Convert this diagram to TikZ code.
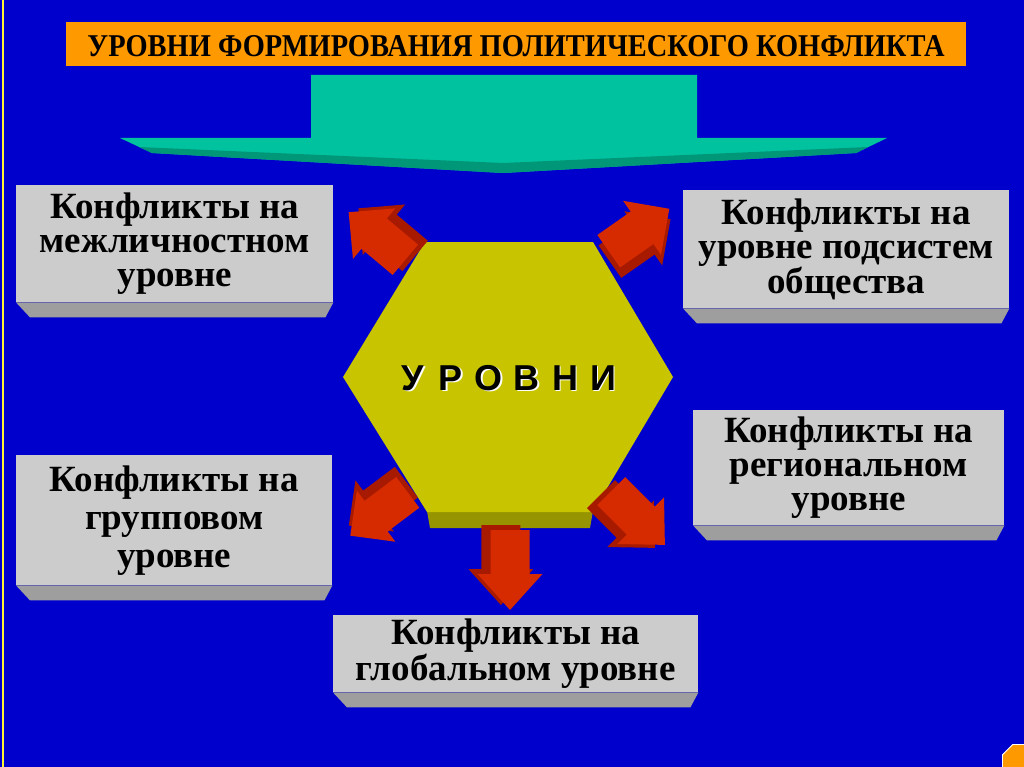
\documentclass[tikz,border=0pt]{standalone}
\usepackage{fontspec}
\setmainfont{Liberation Serif}
\newfontfamily\sansbold[BoldFont={Liberation Sans Bold}]{Liberation Sans}
\usetikzlibrary{calc,shapes.geometric}
\definecolor{bgblue}{RGB}{0,0,204}
\definecolor{titleor}{RGB}{255,153,0}
\definecolor{tealA}{RGB}{0,194,158}
\definecolor{tealB}{RGB}{0,150,120}
\definecolor{hexy}{RGB}{200,196,0}
\definecolor{hexd}{RGB}{150,148,0}
\definecolor{boxg}{RGB}{204,204,204}
\definecolor{bevg}{RGB}{158,158,158}
\definecolor{redf}{RGB}{214,42,0}
\definecolor{redd}{RGB}{168,26,0}
\tikzset{
  lvlbox/.style={rectangle, fill=boxg, text=black, align=center, inner sep=0pt,
    anchor=north west, font=\bfseries\fontsize{37}{34}\selectfont},
  bevel/.style={fill=bevg},
  redface/.style={fill=redf},
  redside/.style={fill=redd}
}
\newcommand{\blockarrow}[5]{%
  \begin{scope}[shift={(#1,#2)}, rotate=#3]
    \fill[redside] ($(-#4/2,-0.3*#5)+(-5,0.14*#5)$) -- ++(0.55*#4,0) -- ++(0,-0.2*#5)
       -- ++(0.45*#4,0.5*#5) -- ++(-0.45*#4,0.5*#5) -- ++(0,-0.2*#5) -- ++(-0.55*#4,0) -- cycle;
    \fill[redface] (-#4/2,-0.3*#5) -- ++(0.55*#4,0) -- ++(0,-0.2*#5)
       -- ++(0.45*#4,0.5*#5) -- ++(-0.45*#4,0.5*#5) -- ++(0,-0.2*#5) -- ++(-0.55*#4,0) -- cycle;
  \end{scope}}
\begin{document}
\begin{tikzpicture}[x=1pt,y=-1pt]
\useasboundingbox (0,0) rectangle (1024,767);
\clip (0,0) rectangle (1024,767);
\fill[bgblue] (0,0) rectangle (1024,767);
\draw[yellow!80!white, line width=2pt] (3,0) -- (3,767);

% title
\node[fill=titleor, minimum width=900pt, minimum height=44pt, inner sep=0pt, anchor=north west] (title) at (66,22) {};
\node[inner sep=0pt] (titletext) at (516,46) {\resizebox{857pt}{21pt}{\bfseries УРОВНИ ФОРМИРОВАНИЯ ПОЛИТИЧЕСКОГО КОНФЛИКТА}};

% teal block arrow
\fill[tealA] (311,75) -- (697,75) -- (697,138) -- (887,138) -- (856,153) -- (503,173)
   -- (152,153) -- (120,138) -- (311,138) -- cycle;
\fill[tealB] (139,147) -- (503,163) -- (868,147) -- (856,153) -- (503,173) -- (152,153) -- cycle;

% hexagon
\fill[hexd] (427,511) -- (593,511) -- (590,528) -- (430,528) -- cycle;
\fill[hexy] (425,242) -- (593,242) -- (673,377) -- (593,512) -- (427,512) -- (343,377) -- cycle;
\coordinate (hex) at (508,378);
\node[inner sep=0pt, text=white, font=\sansbold\bfseries\fontsize{36}{36}\selectfont] at ($(hex)+(1.5,1.5)$)
  {\makebox[38pt]{У}\makebox[38pt]{Р}\makebox[38pt]{О}\makebox[38pt]{В}\makebox[38pt]{Н}\makebox[38pt]{И}};
\node[inner sep=0pt, text=black, font=\sansbold\bfseries\fontsize{36}{36}\selectfont] (hextext) at (hex)
  {\makebox[38pt]{У}\makebox[38pt]{Р}\makebox[38pt]{О}\makebox[38pt]{В}\makebox[38pt]{Н}\makebox[38pt]{И}};

% boxes
\node[lvlbox, minimum width=317pt, minimum height=117pt] (b1) at (16,185)
  {Конфликты на\\межличностном\\уровне};
\node[lvlbox, minimum width=326pt, minimum height=118pt] (b2) at (683,190)
  {Конфликты на\\уровне подсистем\\общества};
\node[lvlbox, minimum width=316pt, minimum height=130pt, font=\bfseries\fontsize{37}{38}\selectfont] (b3) at (16,455)
  {Конфликты на\\групповом\\уровне};
\node[lvlbox, minimum width=311pt, minimum height=115pt] (b4) at (693,410)
  {Конфликты на\\региональном\\уровне};
\node[lvlbox, minimum width=365pt, minimum height=77pt] (b5) at (333,615)
  {Конфликты на\\глобальном уровне};
\foreach \b in {b1,b2,b3,b4,b5}{
  \fill[bevel] (\b.south west) -- (\b.south east) -- ++(-8,15) -- ($(\b.south west)+(14,15)$) -- cycle;
}

% red block arrows
\blockarrow{377}{236}{140}{74}{66}
\blockarrow{639}{230}{35}{74}{66}
\blockarrow{379}{514}{217}{72}{64}
\blockarrow{638}{518}{-45}{76}{66}
\blockarrow{510}{570}{-90}{80}{65}

% corner octagon
\node[regular polygon, regular polygon sides=8, minimum size=38pt, fill=titleor, draw=white, line width=0.8pt, inner sep=0pt] (oct) at (1020,762) {};
\end{tikzpicture}
\end{document}
